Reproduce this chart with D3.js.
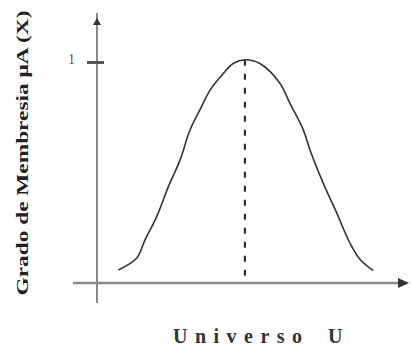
<!DOCTYPE html>
<html>
<head>
<meta charset="utf-8">
<script src="https://cdn.jsdelivr.net/npm/d3@7"></script>
<style>
  body { margin: 0; background: #fff; }
  svg { display: block; }
</style>
</head>
<body>
<script>
// membership curve (universe units 0..100)
const uValues = [7.1, 13.2, 16, 19.9, 23.8, 27.7, 31, 34.3, 37.7, 42.1, 45.4, 49.3, 54.3, 61, 64.3, 68.8, 71, 75.4, 79.9, 84.3, 87.7, 92.1];
const muValues = [0.059, 0.112, 0.195, 0.300, 0.436, 0.557, 0.692, 0.783, 0.873, 0.948, 0.993, 1.01, 0.993, 0.903, 0.813, 0.692, 0.602, 0.452, 0.317, 0.181, 0.106, 0.056];
const peakU = 49.3;
const yTicks = [1];
const yLabel = "Grado de Membresia  \u03bcA (X)";
const xLabelWord = "Universo";
const xLabelSymbol = "U";

const width = 411, height = 347;
const origin = { x: 97, y: 283 };

const svg = d3.select('body')
    .append('svg')
    .attr('width', width)
    .attr('height', height);

const x = d3.scaleLinear().domain([0, 100]).range([origin.x, origin.x + 300]);
const y = d3.scaleLinear().domain([0, 1]).range([origin.y, 62]);

const data = uValues.map((u, i) => ({ u: u, mu: muValues[i] }));

const axisColor = '#8a8a8a';

// axes lines
svg.append('line')
    .attr('x1', origin.x).attr('x2', origin.x)
    .attr('y1', 303).attr('y2', 13)
    .attr('stroke', axisColor).attr('stroke-width', 2);
svg.append('line')
    .attr('x1', 73).attr('x2', 404)
    .attr('y1', origin.y).attr('y2', origin.y)
    .attr('stroke', axisColor).attr('stroke-width', 2.5);

// arrow heads
svg.append('path')
    .attr('d', `M${origin.x - 4},25 L${origin.x},18 L${origin.x + 4},25 Z`)
    .attr('fill', '#333');
svg.append('path')
    .attr('d', `M398,${origin.y - 5} L409,${origin.y} L398,${origin.y + 5} Z`)
    .attr('fill', '#333');

// y tick "1"
const yAxis = d3.axisLeft(y)
    .tickValues(yTicks)
    .tickFormat(d3.format('d'))
    .tickSizeOuter(0);
const gy = svg.append('g')
    .attr('transform', `translate(${origin.x}, 0)`)
    .call(yAxis);
gy.select('.domain').remove();
gy.selectAll('.tick line')
    .attr('x1', -10).attr('x2', 7)
    .attr('stroke', '#555').attr('stroke-width', 3);
gy.selectAll('.tick text')
    .attr('x', -22)
    .attr('dy', '0.1em')
    .attr('font-family', 'Liberation Serif')
    .attr('font-size', 14)
    .attr('fill', '#555');

// dashed line under the peak
svg.append('line')
    .attr('x1', x(peakU)).attr('x2', x(peakU))
    .attr('y1', y(d3.max(muValues))).attr('y2', origin.y)
    .attr('stroke', '#222').attr('stroke-width', 2)
    .attr('stroke-dasharray', '6,8');

// curve
const line = d3.line()
    .x(d => x(d.u))
    .y(d => y(d.mu))
    .curve(d3.curveCatmullRom);
svg.append('path')
    .datum(data)
    .attr('d', line)
    .attr('fill', 'none')
    .attr('stroke', '#333')
    .attr('stroke-width', 1.6);

// labels
svg.append('text')
    .attr('transform', 'translate(28, 153) rotate(-90)')
    .attr('text-anchor', 'middle')
    .attr('font-family', 'Liberation Serif')
    .attr('font-weight', 'bold')
    .attr('font-size', 17)
    .attr('fill', '#222')
    .attr('textLength', 285)
    .attr('lengthAdjust', 'spacingAndGlyphs')
    .text(yLabel);

const xl = svg.append('text')
    .attr('y', 343)
    .attr('font-family', 'Liberation Serif')
    .attr('font-weight', 'bold')
    .attr('font-size', 20)
    .attr('fill', '#333');
xl.append('tspan')
    .attr('x', 173)
    .attr('textLength', 129)
    .attr('lengthAdjust', 'spacing')
    .text(xLabelWord);
xl.append('tspan')
    .attr('x', 328)
    .text(xLabelSymbol);
</script>
</body>
</html>
